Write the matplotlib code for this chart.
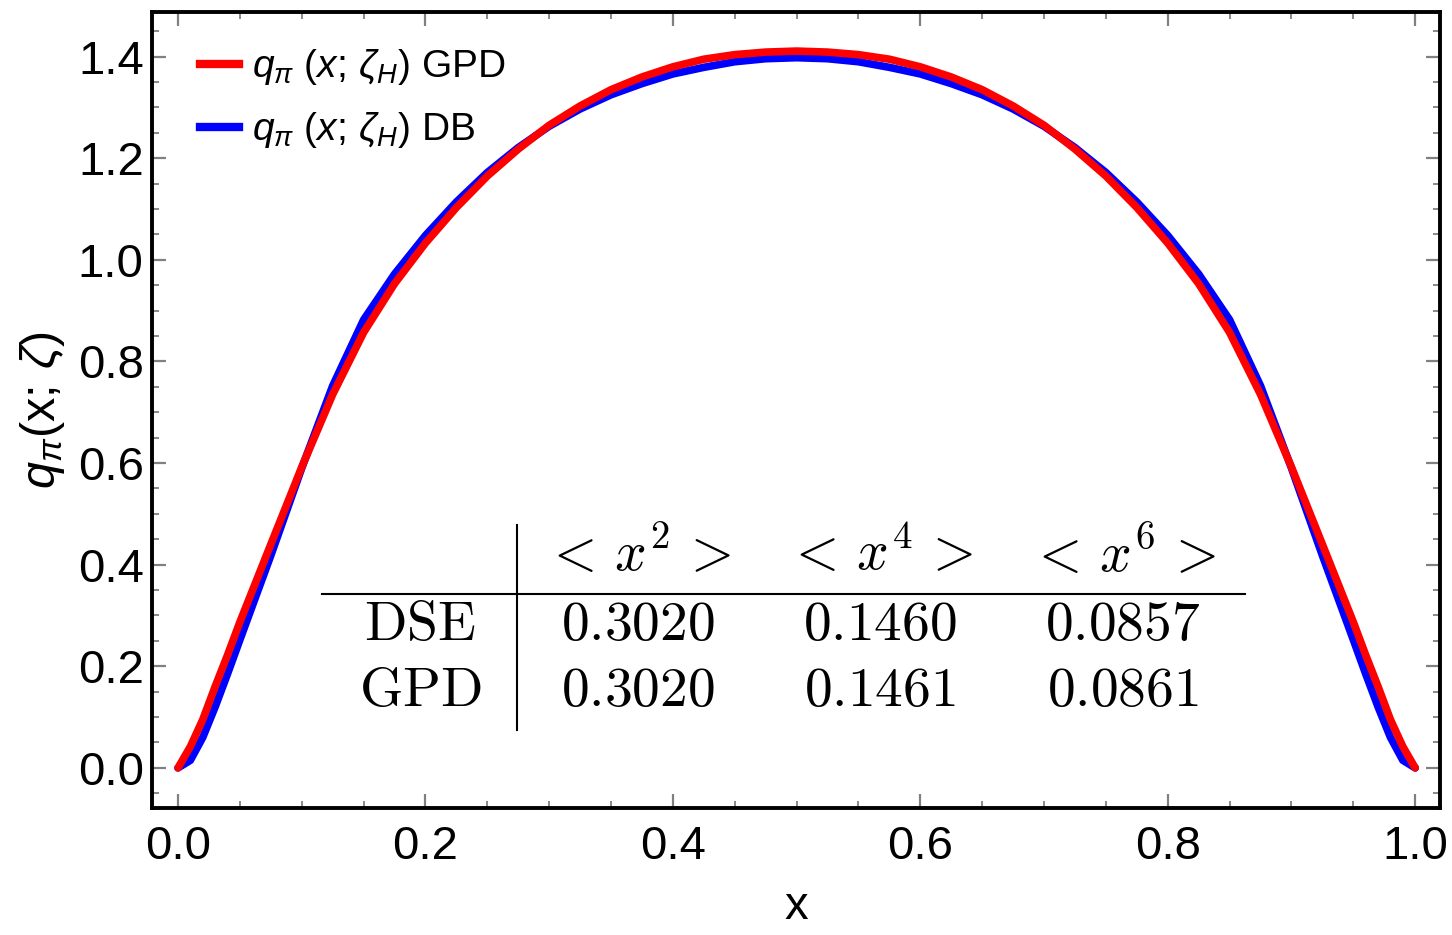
import matplotlib
matplotlib.use("Agg")
import matplotlib.pyplot as plt
from matplotlib.ticker import MultipleLocator, FormatStrFormatter
from matplotlib.lines import Line2D

plt.rcParams['font.family'] = ['Liberation Sans', 'DejaVu Sans']
plt.rcParams['mathtext.fontset'] = 'custom'
plt.rcParams['mathtext.rm'] = 'Liberation Sans'
plt.rcParams['mathtext.it'] = 'Liberation Sans:italic'
plt.rcParams['mathtext.bf'] = 'Liberation Sans:bold'

# values
x_vals = [0.0, 0.01, 0.02, 0.03, 0.04, 0.05, 0.075, 0.1, 0.125, 0.15, 0.175,
          0.2, 0.225, 0.25, 0.275, 0.3, 0.325, 0.35, 0.375, 0.4, 0.425, 0.45,
          0.475, 0.5, 0.525, 0.55, 0.575, 0.6, 0.625, 0.65, 0.675, 0.7, 0.725,
          0.75, 0.775, 0.8, 0.825, 0.85, 0.875, 0.9, 0.925, 0.95, 0.96, 0.97,
          0.98, 0.99, 1.0]

q_gpd = [0.0, 0.042, 0.095, 0.16, 0.222, 0.287, 0.44, 0.592, 0.735, 0.857, 0.953,
         1.033, 1.103, 1.165, 1.218, 1.265, 1.303, 1.335, 1.36, 1.38, 1.395, 1.404,
         1.409, 1.411, 1.409, 1.404, 1.395, 1.38, 1.36, 1.335, 1.303, 1.265, 1.218,
         1.165, 1.103, 1.033, 0.953, 0.857, 0.735, 0.592, 0.44, 0.287, 0.222, 0.16,
         0.095, 0.042, 0.0]

q_db = [0.0, 0.015, 0.06, 0.12, 0.185, 0.252, 0.418, 0.59, 0.752, 0.882, 0.972,
        1.048, 1.114, 1.172, 1.221, 1.263, 1.297, 1.325, 1.347, 1.366, 1.379, 1.39,
        1.396, 1.398, 1.396, 1.39, 1.379, 1.366, 1.347, 1.325, 1.297, 1.263, 1.221,
        1.172, 1.114, 1.048, 0.972, 0.882, 0.752, 0.59, 0.418, 0.252, 0.185, 0.12,
        0.06, 0.015, 0.0]

moment_cols = [r'$<\,x^2\,>$', r'$<\,x^4\,>$', r'$<\,x^6\,>$']
row_names = ['DSE', 'GPD']
moments = [['0.3020', '0.1460', '0.0857'],
           ['0.3020', '0.1461', '0.0861']]

fig = plt.figure(figsize=(14.52, 9.35), dpi=100)
ax = fig.add_axes([0.1047, 0.1358, 0.887, 0.8514])

ax.plot(x_vals, q_db, color='#0000ff', lw=5.5, solid_capstyle='round',
        solid_joinstyle='round')
ax.plot(x_vals, q_gpd, color='#ff0000', lw=5.5, solid_capstyle='round',
        solid_joinstyle='round')

ax.set_xlim(-0.021, 1.02)
ax.set_ylim(-0.079, 1.488)

ax.xaxis.set_major_locator(MultipleLocator(0.2))
ax.xaxis.set_minor_locator(MultipleLocator(0.05))
ax.yaxis.set_major_locator(MultipleLocator(0.2))
ax.yaxis.set_minor_locator(MultipleLocator(0.05))
ax.xaxis.set_major_formatter(FormatStrFormatter('%.1f'))
ax.yaxis.set_major_formatter(FormatStrFormatter('%.1f'))

ax.tick_params(which='both', direction='in', top=True, right=True,
               color='#808080', labelsize=34, labelcolor='black')
ax.tick_params(which='major', length=10, width=1.6)
ax.tick_params(which='minor', length=5, width=1.3)
ax.tick_params(axis='x', pad=12)
ax.tick_params(axis='y', pad=6)

for sp in ax.spines.values():
    sp.set_linewidth(2.8)
    sp.set_color('black')

ax.set_xlabel('x', fontsize=34, labelpad=12)
ax.set_ylabel(r'$q_{\pi}(\mathrm{x};\,\zeta)$', fontsize=35, labelpad=8)

handles = [Line2D([], [], color='#ff0000', lw=6),
           Line2D([], [], color='#0000ff', lw=6)]
labels = [r'$q_{\pi}\ (x;\,\zeta_H)$ GPD', r'$q_{\pi}\ (x;\,\zeta_H)$ DB']
ax.legend(handles, labels, loc='upper left', frameon=False, fontsize=28,
          handlelength=1.0, handletextpad=0.35, labelspacing=0.6,
          borderaxespad=0.3, bbox_to_anchor=(0.016, 0.99))

# moments table inside the axes
tkw = dict(transform=ax.transAxes, fontsize=40, math_fontfamily='cm',
           ha='center', va='center')
col_x = [0.377, 0.565, 0.754]
name_x = 0.208
row_y = [0.229, 0.146]
head_y = 0.318

for cx, txt in zip(col_x, moment_cols):
    ax.text(cx, head_y, txt, **tkw)
for ry, name, vals in zip(row_y, row_names, moments):
    ax.text(name_x, ry, r'$\mathrm{' + name + '}$', **tkw)
    for cx, v in zip(col_x, vals):
        ax.text(cx, ry, r'$\mathrm{' + v + '}$', **tkw)

ax.add_line(Line2D([0.132, 0.849], [0.269, 0.269],
                   transform=ax.transAxes, color='black', lw=1.5))
ax.add_line(Line2D([0.283, 0.283], [0.098, 0.356],
                   transform=ax.transAxes, color='black', lw=1.5))

fig.savefig('out.png', dpi=100)
